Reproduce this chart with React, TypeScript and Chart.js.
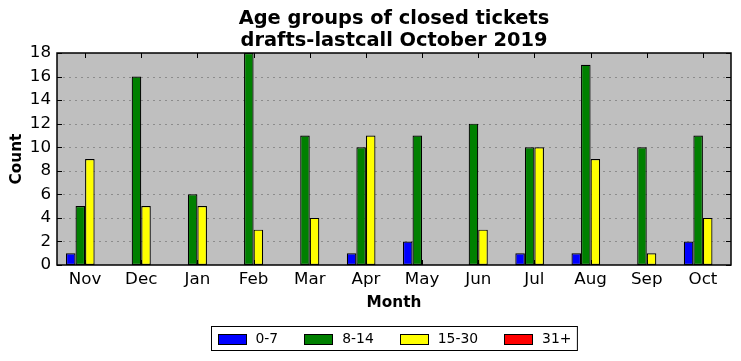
import React, { useEffect, useRef } from "react";
import { Chart, registerables } from "chart.js";

Chart.register(...registerables);

const months = ["Nov", "Dec", "Jan", "Feb", "Mar", "Apr", "May", "Jun", "Jul", "Aug", "Sep", "Oct"];
const age0to7 = [1, 0, 0, 0, 0, 1, 2, 0, 1, 1, 0, 2];
const age8to14 = [5, 16, 6, 18, 11, 10, 11, 12, 10, 17, 10, 11];
const age15to30 = [9, 5, 5, 3, 4, 11, 0, 3, 10, 9, 1, 4];
const age31plus = [0, 0, 0, 0, 0, 0, 0, 0, 0, 0, 0, 0];
const seriesLabels = ["0-7", "8-14", "15-30", "31+"];
const seriesColors = ["#0000ff", "#008000", "#ffff00", "#ff0000"];
const yTicks = [0, 2, 4, 6, 8, 10, 12, 14, 16, 18];
const titleLines = ["Age groups of closed tickets", "drafts-lastcall October 2019"];

const FONT = "'DejaVu Sans', sans-serif";

const framePlugin = {
  id: "frame",
  beforeDatasetsDraw(chart: any) {
    const { ctx, chartArea: a } = chart;
    ctx.save();
    ctx.fillStyle = "#bfbfbf";
    ctx.fillRect(a.left, a.top, a.right - a.left, a.bottom - a.top);
    const y = chart.scales.y;
    ctx.strokeStyle = "#8c8c8c";
    ctx.lineWidth = 1;
    ctx.setLineDash([2, 4]);
    yTicks.forEach((v) => {
      if (v === 0 || v === 18) return;
      const py = Math.round(y.getPixelForValue(v)) + 0.5;
      ctx.beginPath();
      ctx.moveTo(a.left, py);
      ctx.lineTo(a.right, py);
      ctx.stroke();
    });
    ctx.restore();
  },
  afterDraw(chart: any) {
    const { ctx, chartArea: a } = chart;
    const x = chart.scales.x;
    const y = chart.scales.y;
    ctx.save();
    ctx.strokeStyle = "#000";
    ctx.lineWidth = 1;
    ctx.setLineDash([]);
    ctx.beginPath();
    yTicks.forEach((v) => {
      const py = Math.round(y.getPixelForValue(v)) + 0.5;
      ctx.moveTo(a.left, py);
      ctx.lineTo(a.left + 5, py);
      ctx.moveTo(a.right, py);
      ctx.lineTo(a.right - 5, py);
    });
    months.forEach((_, i) => {
      const px = Math.round(x.getPixelForValue(i)) + 0.5;
      ctx.moveTo(px, a.bottom);
      ctx.lineTo(px, a.bottom - 5);
      ctx.moveTo(px, a.top);
      ctx.lineTo(px, a.top + 5);
    });
    ctx.stroke();
    ctx.lineWidth = 1.5;
    ctx.strokeRect(a.left, a.top, a.right - a.left, a.bottom - a.top);

    const cx = (a.left + a.right) / 2;

    // title
    ctx.fillStyle = "#000";
    ctx.font = `bold 19.4px ${FONT}`;
    ctx.textAlign = "center";
    ctx.textBaseline = "middle";
    ctx.fillText(titleLines[0], cx, 19);
    ctx.fillText(titleLines[1], cx, 41);

    // legend
    ctx.font = `13.9px ${FONT}`;
    ctx.textBaseline = "middle";
    const pad = 6, boxW = 28, boxH = 10, gap = 10, itemGap = 26;
    const widths = seriesLabels.map((l) => ctx.measureText(l).width);
    let total = pad * 2;
    widths.forEach((w, i) => {
      total += boxW + gap + w + (i < widths.length - 1 ? itemGap : 0);
    });
    const lx = Math.round(cx - total / 2) + 0.5;
    const ly = 326.5;
    const lh = 24;
    ctx.fillStyle = "#fff";
    ctx.fillRect(lx, ly, total, lh);
    ctx.lineWidth = 1;
    ctx.strokeStyle = "#000";
    ctx.strokeRect(lx, ly, total, lh);
    let cur = lx + pad;
    const my = ly + lh / 2;
    seriesLabels.forEach((l, i) => {
      ctx.fillStyle = seriesColors[i];
      ctx.fillRect(Math.round(cur), Math.round(my - boxH / 2), boxW, boxH);
      ctx.strokeRect(Math.round(cur) + 0.5, Math.round(my - boxH / 2) + 0.5, boxW, boxH);
      cur += boxW + gap;
      ctx.fillStyle = "#000";
      ctx.textAlign = "left";
      ctx.fillText(l, cur, my + 1);
      cur += widths[i] + itemGap;
    });
    ctx.restore();
  },
};

export default function App() {
  const ref = useRef<HTMLCanvasElement>(null);
  useEffect(() => {
    if (!ref.current) return;
    const datasets = [age0to7, age8to14, age15to30, age31plus].map((d, i) => ({
      label: seriesLabels[i],
      data: d,
      backgroundColor: seriesColors[i],
      borderColor: "#000",
      borderWidth: 1.2,
      borderSkipped: false,
    }));
    const chart = new Chart(ref.current, {
      type: "bar",
      data: { labels: months, datasets },
      plugins: [framePlugin],
      options: {
        animation: false,
        responsive: false,
        maintainAspectRatio: false,
        layout: { padding: { left: 0, right: 10, top: 53, bottom: 46 } },
        plugins: {
          legend: { display: false },
          tooltip: { enabled: false },
          title: { display: false },
        },
        datasets: { bar: { categoryPercentage: 0.68, barPercentage: 1.0 } },
        scales: {
          x: {
            grid: { display: false, drawTicks: false },
            border: { display: false },
            ticks: { color: "#000", font: { family: FONT, size: 16.7 }, padding: 5, maxRotation: 0 },
            title: {
              display: true,
              text: "Month",
              color: "#000",
              font: { family: FONT, size: 15.3, weight: "bold" },
              padding: { top: 0, bottom: 3 },
            },
            afterFit(s: any) {
              s.height = 50;
            },
          },
          y: {
            min: 0,
            max: 18,
            grid: { display: false, drawTicks: false },
            border: { display: false },
            ticks: {
              stepSize: 2,
              color: "#000",
              font: { family: FONT, size: 16.7 },
              padding: 6,
            },
            title: {
              display: true,
              text: "Count",
              color: "#000",
              font: { family: FONT, size: 15.3, weight: "bold" },
              padding: { top: 8, bottom: 0 },
            },
            afterFit(s: any) {
              s.width = 57;
            },
          },
        },
      },
    });
    return () => chart.destroy();
  }, []);
  return (
    <div style={{ position: "fixed", left: 0, top: 0, width: 741, height: 361, background: "#fff" }}>
      <canvas ref={ref} width={741} height={361} style={{ width: 741, height: 361 }} />
    </div>
  );
}
